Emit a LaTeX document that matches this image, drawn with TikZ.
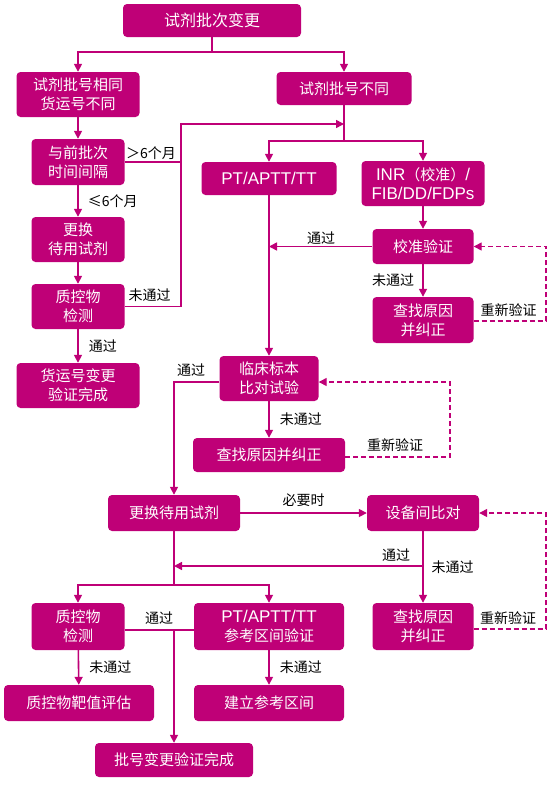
\documentclass[tikz,border=0pt]{standalone}
\usepackage{fontspec}
\setmainfont{Noto Sans CJK SC}
\newfontfamily\latin{Liberation Sans}
\usetikzlibrary{arrows.meta}
\definecolor{rose}{RGB}{191,0,119}
\newcommand{\lat}[1]{{\latin\fontsize{17}{19}\selectfont #1}}

\begin{document}
\begin{tikzpicture}[x=1pt,y=-1pt]
\tikzstyle{every node}+=[inner sep=0pt]
\tikzstyle{box}=[rectangle, rounded corners=4pt, fill=rose, text=white, align=center, font=\fontsize{15}{19}\selectfont]
\tikzstyle{lbl}=[font=\fontsize{14}{16}\selectfont, text=black]
\tikzstyle{wire}=[rose, line width=1.6pt]
\tikzstyle{arr}=[wire, -{Triangle[length=8pt,width=8pt]}]
\tikzstyle{retry}=[arr, dash pattern=on 5pt off 3pt, line width=1.4pt]
\useasboundingbox (0,0) rectangle (549,785);
\node[box, minimum width=178, minimum height=33, font=\fontsize{16}{19}\selectfont] (top) at (212,20.5) {试剂批次变更};
\node[box, minimum width=123, minimum height=45] (same) at (78,94.5) {试剂批号相同\\货运号不同};
\node[box, minimum width=135, minimum height=33] (diff) at (344,88.5) {试剂批号不同};
\node[box, minimum width=93, minimum height=46] (interval) at (78,162) {与前批次\\时间间隔};
\node[box, minimum width=135, minimum height=33] (pt) at (269,178.5) {\lat{PT/APTT/TT}};
\node[box, minimum width=123, minimum height=45] (inr) at (423,183.5) {\lat{INR}（校准）\lat{/}\\\lat{FIB/DD/FDPs}};
\node[box, minimum width=93, minimum height=45] (swap) at (78,239.5) {更换\\待用试剂};
\node[box, minimum width=93, minimum height=45] (qc) at (78,306.5) {质控物\\检测};
\node[box, minimum width=123, minimum height=45] (lotdone) at (78,385.5) {货运号变更\\验证完成};
\node[box, minimum width=101, minimum height=35] (calib) at (423,246.5) {校准验证};
\node[box, minimum width=101, minimum height=46] (fixa) at (423,320) {查找原因\\并纠正};
\node[box, minimum width=99, minimum height=45] (clin) at (269,378.5) {临床标本\\比对试验};
\node[box, minimum width=152, minimum height=34] (fixb) at (269,455) {查找原因并纠正};
\node[box, minimum width=132, minimum height=36] (swapb) at (174,513) {更换待用试剂};
\node[box, minimum width=112, minimum height=36] (inter) at (423,513) {设备间比对};
\node[box, minimum width=93, minimum height=47] (qcb) at (78,626.5) {质控物\\检测};
\node[box, minimum width=150, minimum height=47] (ref) at (269,626.5) {\lat{PT/APTT/TT}\\参考区间验证};
\node[box, minimum width=101, minimum height=47] (fixc) at (423,626.5) {查找原因\\并纠正};
\node[box, minimum width=150, minimum height=36] (target) at (79,703) {质控物靶值评估};
\node[box, minimum width=150, minimum height=36] (build) at (269,703) {建立参考区间};
\node[box, minimum width=158, minimum height=34] (final) at (174,760) {批号变更验证完成};
\coordinate (splita) at (212,52);
\coordinate (splitb) at (344,141);
\coordinate (looptop) at (181,124);
\coordinate (joina) at (344,124);
\coordinate (retrya) at (546,321);
\coordinate (retryb) at (450,457);
\coordinate (retryc) at (546,629);
\coordinate (mergea) at (174,566);
\coordinate (splitc) at (174,585);
\draw[wire] (top) -- (splita);
\draw[arr] (splita) -| (same);
\draw[arr] (splita) -| (diff);
\draw[arr] (same) -- (interval);
\draw[arr] (interval) -- (swap) node[lbl, midway, right=9pt] {≤6个月};
\draw[wire] (interval.east) -- (interval.east -| looptop);
\node[lbl] (gtsix) at (151,153) {＞6个月};
\draw[arr] (swap) -- (qc);
\draw[arr] (qc.east) -| (looptop) -- (joina);
\node[lbl] (failqc) at (149.5,295) {未通过};
\draw[arr] (qc) -- (lotdone) node[lbl, midway, right=10pt] {通过};
\draw[wire] (diff) -- (splitb);
\draw[arr] (splitb) -| (pt);
\draw[arr] (splitb) -| (inr);
\draw[arr] (pt) -- (clin);
\draw[arr] (inr) -- (calib);
\draw[arr] (calib) -- (calib.west -| pt.south);
\node[lbl] (passcalib) at (321,238) {通过};
\draw[arr] (calib) -- (fixa) node[lbl, midway, left=8pt] {未通过};
\draw[retry] (fixa.east |- retrya) -- (retrya) |- (calib);
\node[lbl] (retrytexta) at (508.5,310) {重新验证};
\draw[arr] (clin) -- (fixb) node[lbl, midway, right=10pt] {未通过};
\draw[retry] (fixb.east |- retryb) -- (retryb) |- (clin.east |- 0,382);
\node[lbl] (retrytextb) at (395,445) {重新验证};
\draw[arr] (clin.west |- 0,382) -| (swapb);
\node[lbl] (passclin) at (191,370) {通过};
\draw[arr] (swapb) -- (inter) node[lbl, midway, above=6pt] {必要时};
\draw[arr] (inter) -- (fixc);
\node[lbl] (failinter) at (452.5,567) {未通过};
\draw[arr] (inter.south |- mergea) -- (mergea);
\node[lbl] (passinter) at (396,555) {通过};
\draw[retry] (fixc.east |- retryc) -- (retryc) |- (inter);
\node[lbl] (retrytextc) at (508,618) {重新验证};
\draw[wire] (swapb) -- (splitc);
\draw[arr] (splitc) -| (qcb);
\draw[arr] (splitc) -| (ref);
\draw[wire] (qcb.east |- 0,630) -- (ref.west |- 0,630);
\node[lbl] (passqc) at (159,618) {通过};
\draw[arr] (final.north |- 0,630) -- (final);
\draw[arr] (qcb) -- (target) node[lbl, midway, right=10pt] {未通过};
\draw[arr] (ref) -- (build) node[lbl, midway, right=10pt] {未通过};
\end{tikzpicture}
\end{document}
